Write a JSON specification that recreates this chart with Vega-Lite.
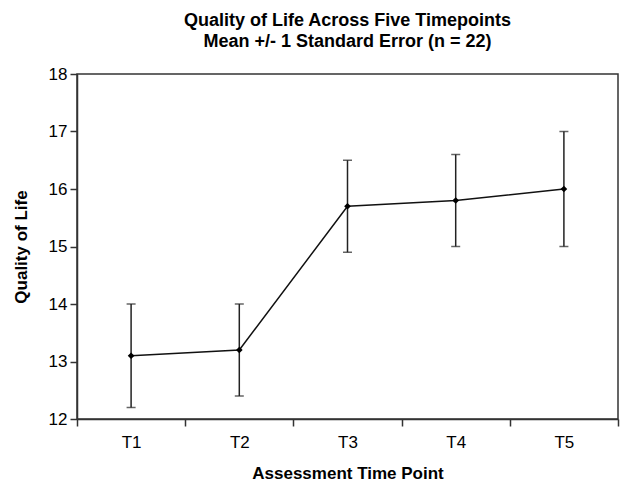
{
  "$schema": "https://vega.github.io/schema/vega-lite/v6.json",
  "width": 541,
  "height": 345,
  "autosize": {"type": "none"},
  "padding": {"left": 77, "top": 74, "right": 2, "bottom": 67},
  "background": "white",
  "title": {
    "text": ["Quality of Life Across Five Timepoints", "Mean +/- 1 Standard Error (n = 22)"],
    "font": "Liberation Sans",
    "fontSize": 18,
    "fontWeight": "bold",
    "color": "#000000",
    "lineHeight": 21,
    "anchor": "middle",
    "offset": 14
  },
  "config": {
    "view": {"stroke": "#333333", "strokeWidth": 1.5},
    "axis": {
      "labelFont": "Liberation Sans",
      "labelFontSize": 17,
      "labelColor": "#000000",
      "titleFont": "Liberation Sans",
      "titleFontSize": 17,
      "titleFontWeight": "bold",
      "titleColor": "#000000",
      "domainColor": "#333333",
      "domainWidth": 1.5,
      "tickColor": "#333333",
      "tickWidth": 1.5,
      "grid": false
    }
  },
  "data": {
    "values": [
      {"time": "T1", "mean": 13.1, "lower": 12.2, "upper": 14.0},
      {"time": "T2", "mean": 13.2, "lower": 12.4, "upper": 14.0},
      {"time": "T3", "mean": 15.7, "lower": 14.9, "upper": 16.5},
      {"time": "T4", "mean": 15.8, "lower": 15.0, "upper": 16.6},
      {"time": "T5", "mean": 16.0, "lower": 15.0, "upper": 17.0}
    ]
  },
  "encoding": {
    "x": {
      "field": "time",
      "type": "ordinal",
      "scale": {"type": "band", "paddingInner": 0, "paddingOuter": 0},
      "axis": {
        "title": "Assessment Time Point",
        "labelAngle": 0,
        "tickBand": "extent",
        "tickSize": 7,
        "labelPadding": 8,
        "titlePadding": 15
      }
    }
  },
  "layer": [
    {
      "mark": {"type": "rule", "color": "#222222", "strokeWidth": 1.5},
      "encoding": {
        "y": {
          "field": "lower",
          "type": "quantitative",
          "scale": {"domain": [12, 18], "nice": false, "zero": false},
          "axis": {
            "title": "Quality of Life",
            "values": [12, 13, 14, 15, 16, 17, 18],
            "format": "d",
            "tickSize": 7,
            "labelPadding": 3,
            "titlePadding": 18
          }
        },
        "y2": {"field": "upper"}
      }
    },
    {
      "mark": {"type": "tick", "color": "#222222", "thickness": 1.5, "size": 9},
      "encoding": {"y": {"field": "lower", "type": "quantitative"}}
    },
    {
      "mark": {"type": "tick", "color": "#222222", "thickness": 1.5, "size": 9},
      "encoding": {"y": {"field": "upper", "type": "quantitative"}}
    },
    {
      "mark": {"type": "line", "color": "#111111", "strokeWidth": 1.5},
      "encoding": {"y": {"field": "mean", "type": "quantitative"}}
    },
    {
      "mark": {"type": "point", "shape": "diamond", "filled": true, "color": "#000000", "size": 45, "opacity": 1},
      "encoding": {"y": {"field": "mean", "type": "quantitative"}}
    }
  ]
}
